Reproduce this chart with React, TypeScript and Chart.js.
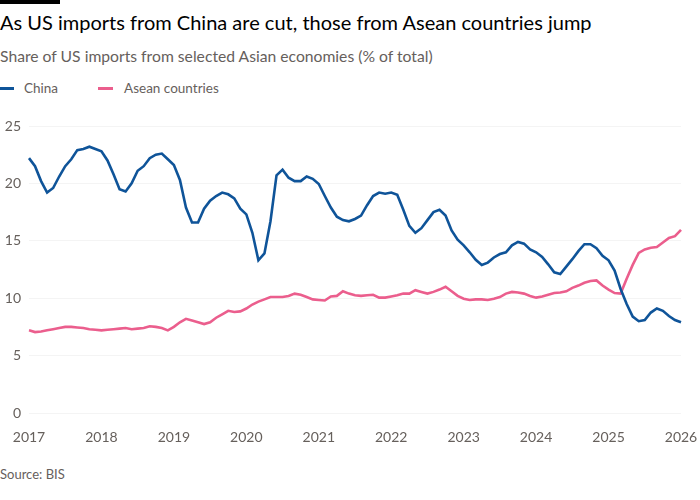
import React, { useEffect, useRef } from "react";
import { Chart, registerables } from "chart.js";

Chart.register(...registerables);

// Tick labels (years) and monthly categories Jan 2017 .. Jan 2026
const yearTicks = [2017, 2018, 2019, 2020, 2021, 2022, 2023, 2024, 2025, 2026];
const monthNames = ["Jan", "Feb", "Mar", "Apr", "May", "Jun", "Jul", "Aug", "Sep", "Oct", "Nov", "Dec"];
const months: string[] = [];
yearTicks.forEach((y) => {
  monthNames.forEach((m) => {
    if (y < 2026 || m === "Jan") months.push(`${m} ${y}`);
  });
});

// Share of US imports (% of total)
const china = [
  22.2, 21.5, 20.2, 19.2, 19.6, 20.6, 21.5, 22.1, 22.9, 23.0, 23.2, 23.0,
  22.8, 22.0, 20.8, 19.5, 19.3, 20.0, 21.1, 21.5, 22.2, 22.5, 22.6, 22.1,
  21.6, 20.3, 17.9, 16.6, 16.6, 17.8, 18.5, 18.9, 19.2, 19.05, 18.7, 17.8,
  17.3, 15.7, 13.3, 13.9, 16.7, 20.7, 21.2, 20.5, 20.2, 20.2, 20.6, 20.4,
  19.95, 18.9, 17.9, 17.1, 16.8, 16.7, 16.9, 17.2, 18.1, 18.9, 19.2, 19.1,
  19.2, 19.0, 17.7, 16.3, 15.7, 16.1, 16.8, 17.5, 17.7, 17.2, 15.9, 15.1,
  14.6, 14.0, 13.35, 12.9, 13.1, 13.55, 13.85, 14.0, 14.6, 14.9, 14.75, 14.25,
  14.0, 13.6, 12.95, 12.25, 12.1, 12.75, 13.4, 14.1, 14.7, 14.7, 14.35, 13.7,
  13.3, 12.4, 10.8, 9.5, 8.4, 8.0, 8.1, 8.75, 9.1, 8.9, 8.45, 8.1,
  7.9,
];

const asean = [
  7.2, 7.05, 7.1, 7.2, 7.3, 7.4, 7.5, 7.5, 7.45, 7.4, 7.3, 7.25,
  7.2, 7.25, 7.3, 7.35, 7.4, 7.3, 7.35, 7.4, 7.55, 7.5, 7.4, 7.2,
  7.5, 7.9, 8.2, 8.05, 7.9, 7.75, 7.9, 8.3, 8.6, 8.9, 8.8, 8.85,
  9.1, 9.45, 9.7, 9.9, 10.1, 10.1, 10.1, 10.2, 10.4, 10.3, 10.1, 9.9,
  9.85, 9.8, 10.15, 10.2, 10.6, 10.4, 10.25, 10.2, 10.25, 10.3, 10.05, 10.05,
  10.15, 10.25, 10.4, 10.4, 10.7, 10.55, 10.4, 10.55, 10.75, 11.0, 10.6, 10.2,
  9.95, 9.85, 9.9, 9.9, 9.85, 9.95, 10.1, 10.4, 10.55, 10.5, 10.4, 10.2,
  10.05, 10.15, 10.3, 10.45, 10.5, 10.6, 10.9, 11.1, 11.35, 11.5, 11.55, 11.1,
  10.75, 10.45, 10.4, 11.7, 12.9, 13.95, 14.25, 14.4, 14.45, 14.85, 15.25, 15.4,
  15.95,
];

const yTicks = [0, 5, 10, 15, 20, 25];

const BLUE = "#0f5499";
const PINK = "#eb5e8d";
const GREY = "#66605c";
const FONT = "Lato, 'Noto Sans', sans-serif";

export default function App() {
  const ref = useRef<HTMLCanvasElement | null>(null);

  useEffect(() => {
    if (!ref.current) return;
    const chart = new Chart(ref.current, {
      type: "line",
      data: {
        labels: months,
        datasets: [
          {
            label: "China",
            data: china,
            borderColor: BLUE,
            backgroundColor: BLUE,
            borderWidth: 2.6,
            pointRadius: 0,
            tension: 0,
          },
          {
            label: "Asean countries",
            data: asean,
            borderColor: PINK,
            backgroundColor: PINK,
            borderWidth: 2.6,
            pointRadius: 0,
            tension: 0,
          },
        ],
      },
      options: {
        responsive: false,
        animation: false,
        layout: { padding: { top: 26, right: 19, left: 0, bottom: 0 } },
        plugins: {
          legend: { display: false },
          tooltip: { enabled: false },
          title: { display: false },
        },
        scales: {
          x: {
            type: "category",
            grid: { display: false, drawTicks: false },
            border: { display: false },
            ticks: {
              autoSkip: false,
              maxRotation: 0,
              padding: 16,
              color: GREY,
              font: { family: FONT, size: 14 },
              callback: (_v: any, i: number) => {
                const lab = months[i];
                return lab.startsWith("Jan") ? lab.slice(4) : null;
              },
            },
            afterFit: (s: any) => {
              s.height = 47;
              s.paddingLeft = 0;
              s.paddingRight = 0;
            },
          },
          y: {
            min: 0,
            max: 25,
            afterBuildTicks: (s: any) => {
              s.ticks = yTicks.map((v) => ({ value: v }));
            },
            grid: { color: "#f4f4f4", drawTicks: false, lineWidth: 1 },
            border: { display: false },
            ticks: {
              padding: 8,
              color: GREY,
              font: { family: FONT, size: 14 },
            },
            afterFit: (s: any) => {
              s.width = 29;
            },
          },
        },
      },
    });
    return () => chart.destroy();
  }, []);

  const textBase: React.CSSProperties = {
    position: "absolute",
    left: 0,
    margin: 0,
    whiteSpace: "nowrap",
    fontFamily: FONT,
  };

  return (
    <div
      style={{
        position: "fixed",
        left: 0,
        top: 0,
        width: 700,
        height: 500,
        background: "#fff",
        overflow: "hidden",
      }}
    >
      <div style={{ position: "absolute", left: 0, top: 0, width: 60, height: 4, background: "#000" }} />
      <div style={{ ...textBase, top: 10, fontSize: 20, lineHeight: "24px", color: "#000" }}>
        As US imports from China are cut, those from Asean countries jump
      </div>
      <div style={{ ...textBase, top: 46, fontSize: 15.7, lineHeight: "20px", color: GREY }}>
        Share of US imports from selected Asian economies (% of total)
      </div>
      <div style={{ ...textBase, top: 79, height: 18, fontSize: 13.5, lineHeight: "18px", color: GREY, display: "flex", alignItems: "center" }}>
        <span style={{ display: "inline-block", width: 14, height: 3, background: BLUE, marginRight: 10 }} />
        <span style={{ marginRight: 40 }}>China</span>
        <span style={{ display: "inline-block", width: 15, height: 3, background: PINK, marginRight: 11 }} />
        <span>Asean countries</span>
      </div>
      <canvas
        ref={ref}
        width={700}
        height={360}
        style={{ position: "absolute", left: 0, top: 100, width: 700, height: 360 }}
      />
      <div style={{ ...textBase, top: 465, fontSize: 13, lineHeight: "18px", color: GREY }}>Source: BIS</div>
    </div>
  );
}
